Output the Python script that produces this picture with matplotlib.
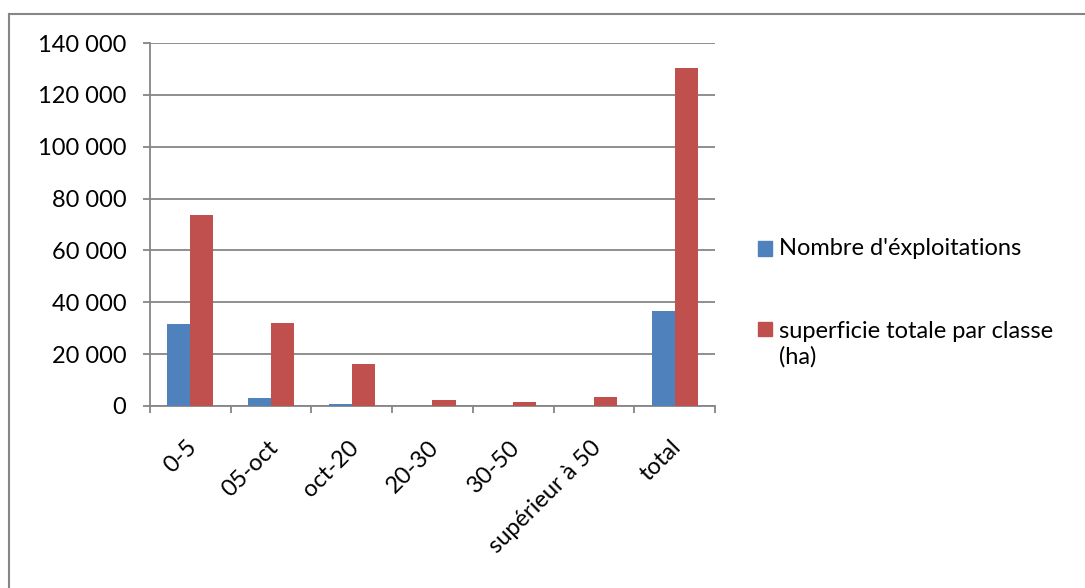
import matplotlib.pyplot as plt
import matplotlib.transforms as mtransforms
from matplotlib.lines import Line2D
from matplotlib.patches import Rectangle
from matplotlib.ticker import FuncFormatter
import numpy as np

plt.rcParams['font.family'] = ['Lato', 'DejaVu Sans']

# --- data ---
classes = ['0-5', '05-oct', 'oct-20', '20-30', '30-50', 'supérieur à 50', 'total']
nb_exploitations = [31700, 3200, 650, 150, 50, 40, 36800]
superficie_ha = [73500, 32000, 16300, 2450, 1700, 3500, 130300]
series_labels = ["Nombre d'éxploitations", 'superficie totale par classe\n(ha)']
y_ticks = [0, 20000, 40000, 60000, 80000, 100000, 120000, 140000]

blue = '#4F81BD'
red = '#C0504D'
gray = '#868686'
fs = 17

W, H = 1085, 588
fig = plt.figure(figsize=(W / 100, H / 100), dpi=100)
ax = fig.add_axes([150 / W, 1 - 406 / H, 565 / W, 363 / H])

x = np.arange(len(classes))
w = 1 / 3.5  # gap width 150%
ax.bar(x - w / 2, nb_exploitations, w, color=blue, zorder=3)
ax.bar(x + w / 2, superficie_ha, w, color=red, zorder=3)

ax.set_xlim(-0.5, len(classes) - 0.5)
ax.set_ylim(0, 140000)
ax.set_yticks(y_ticks)
ax.yaxis.set_major_formatter(FuncFormatter(lambda v, p: f'{int(v):,}'.replace(',', ' ')))
ax.grid(axis='y', color=gray, linewidth=1.3, zorder=0)

for s in ['top', 'right']:
    ax.spines[s].set_visible(False)
for s in ['left', 'bottom']:
    ax.spines[s].set_color(gray)
    ax.spines[s].set_linewidth(1.3)

ax.tick_params(axis='y', length=5, width=1.3, color=gray, pad=12, labelsize=fs)

# category labels at centres, tick marks at boundaries
ax.set_xticks(x)
ax.set_xticklabels(classes, rotation=45, ha='right', va='top', rotation_mode='anchor')
ax.tick_params(axis='x', which='major', length=0, pad=22, labelsize=fs)
ax.set_xticks(np.arange(len(classes) + 1) - 0.5, minor=True)
ax.tick_params(axis='x', which='minor', length=5, width=1.3, color=gray)
shift = mtransforms.ScaledTranslation(-4 / 100, 0, fig.dpi_scale_trans)
for lbl in ax.get_xticklabels():
    lbl.set_transform(lbl.get_transform() + shift)

# legend: square swatch next to the first line of each label
line_px = 1.2 * fs * 100 / 72
legend_rows = [(series_labels[0], blue, 255), (series_labels[1], red, 335)]
for label, color, base in legend_rows:
    fig.add_artist(Rectangle((758 / W, 1 - (base + 0.5) / H), 14 / W, 14 / H,
                             color=color, transform=fig.transFigure))
    # va='baseline' pins the last line, so move down for extra lines
    last = base + label.count('\n') * line_px
    fig.text(779 / W, 1 - last / H, label, fontsize=fs, va='baseline', ha='left',
             linespacing=1.2)

# chart area border (top and left edges)
fig.add_artist(Line2D([9 / W, 1], [1 - 14 / H] * 2, color=gray, linewidth=1.5,
                      transform=fig.transFigure))
fig.add_artist(Line2D([9 / W] * 2, [0, 1 - 14 / H], color=gray, linewidth=1.5,
                      transform=fig.transFigure))

fig.savefig('out.png', dpi=100)
